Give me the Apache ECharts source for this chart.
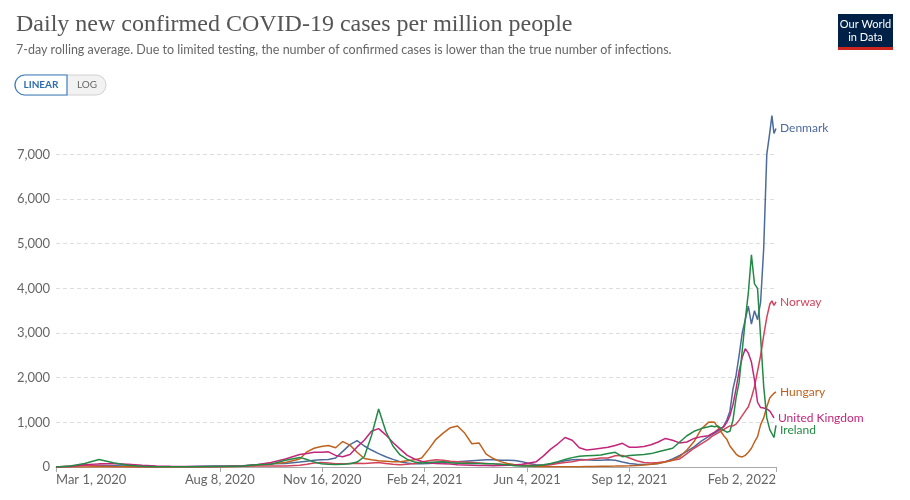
<!DOCTYPE html>
<html>
<head>
    <title>Daily new confirmed COVID-19 cases per million people</title>
    <meta charset="utf-8">
    <script src="https://cdn.jsdelivr.net/npm/echarts@6/dist/echarts.min.js"></script>
    <style>
        html, body { margin: 0; padding: 0; background: #fff; }
        #chart { width: 910px; height: 500px; }
    </style>
</head>
<body>
<div id="chart"></div>
<script>
// days since Mar 1, 2020
var days = [0,14,28,42,56,70,84,98,112,126,140,154,168,182,196,210,224,238,
    245,252,259,266,273,280,287,294,301,308,315,322,329,336,343,350,357,364,371,378,
    385,392,399,406,413,420,427,434,441,448,455,462,469,476,483,490,497,504,511,518,
    525,532,539,546,553,560,567,574,581,588,595,602,609,616,623,630,637,
    640,643,646,649,652,655,658,661,664,667,670,673,676,679,682,685,688,691,694,
    697,699,701,703];

var denmark = [0,10,40,40,30,20,10,5,5,4,15,20,20,30,50,70,80,110,
    130,150,160,170,200,350,500,590,470,380,300,230,170,120,90,70,70,80,90,100,
    110,120,130,140,150,160,160,150,150,145,120,80,50,40,60,100,140,160,170,160,
    150,150,160,150,110,80,60,55,60,80,120,180,260,350,450,580,680,
    720,760,800,850,920,1050,1250,1750,2050,2500,3000,3300,3600,3200,3500,3300,3700,4900,7000,
    7500,7870,7470,7580];

var norway = [0,20,40,25,10,4,2,2,2,3,5,8,12,15,20,20,25,40,
    60,90,100,90,75,70,80,85,80,90,100,80,60,50,60,80,110,140,160,150,
    130,120,110,100,90,80,70,60,55,50,45,40,35,40,50,80,100,120,150,160,
    180,200,200,250,260,200,140,100,90,100,120,150,180,300,420,520,620,
    680,720,760,800,840,880,920,920,960,1050,1150,1250,1350,1550,1800,2150,2500,2950,3350,
    3650,3720,3620,3700];

var hungary = [0,0,2,5,5,4,3,2,1,1,2,3,5,15,40,70,100,180,
    340,420,460,480,430,570,490,330,190,160,140,130,120,120,140,160,200,400,620,760,
    880,920,760,520,540,290,190,120,80,50,30,20,12,8,6,6,6,7,8,10,
    12,15,18,20,25,28,35,45,60,80,110,150,230,380,570,850,1000,
    1010,1000,900,800,700,620,470,380,290,240,225,260,330,420,560,680,950,1100,1350,
    1550,1600,1650,1680];

var uk = [0,10,50,70,75,60,40,25,15,10,10,12,15,25,50,100,180,280,
    300,330,330,340,260,230,280,450,600,800,860,720,550,400,260,180,130,90,80,70,
    65,50,45,40,35,33,30,35,40,45,60,90,120,250,400,520,660,600,430,380,
    400,420,440,480,530,440,440,460,500,560,640,600,540,560,640,680,
    700,740,780,830,860,900,1000,1150,1400,1750,2150,2450,2650,2550,2350,1950,1450,1330,1320,
    1300,1250,1180,1100];

var ireland = [0,20,80,170,95,40,15,8,5,4,5,10,15,25,50,60,150,215,
    170,110,75,60,55,60,75,110,230,700,1300,800,470,270,170,110,90,100,110,115,
    95,85,85,80,80,75,70,60,50,30,20,20,30,50,80,120,170,210,240,250,
    260,270,300,330,230,260,270,280,300,340,380,420,560,700,800,860,900,
    920,900,920,870,820,780,800,1050,1550,1900,2600,3300,3900,4750,4100,4000,2900,1800,1100,
    830,750,660,930];

var countries = ['Denmark', 'Norway', 'Hungary', 'United Kingdom', 'Ireland'];
var values = [denmark, norway, hungary, uk, ireland];
var colors = ['#4C6A9C', '#D3435C', '#C0621F', '#C2267B', '#238A45'];

var tickDays = [0, 160, 260, 360, 460, 560, 703];
var tickLabels = ['Mar 1, 2020', 'Aug 8, 2020', 'Nov 16, 2020', 'Feb 24, 2021', 'Jun 4, 2021', 'Sep 12, 2021', 'Feb 2, 2022'];

var series = countries.map(function (name, k) {
    return {
        name: name,
        type: 'line',
        showSymbol: false,
        data: days.map(function (d, i) { return [d, values[k][i]]; }),
        lineStyle: { color: colors[k], width: 1.5 },
        itemStyle: { color: colors[k] },
        endLabel: {
            show: true,
            formatter: '{a}',
            color: colors[k],
            fontFamily: 'Lato',
            fontSize: 12,
            distance: 4
        },
        labelLayout: { moveOverlap: 'shiftY' },
        emphasis: { disabled: true }
    };
});

var chart = echarts.init(document.getElementById('chart'), null, { renderer: 'canvas' });
chart.setOption({
    animation: false,
    backgroundColor: '#fff',
    title: {
        text: 'Daily new confirmed COVID-19 cases per million people',
        subtext: '7-day rolling average. Due to limited testing, the number of confirmed cases is lower than the true number of infections.',
        left: 11,
        top: 8,
        itemGap: 6,
        textStyle: { fontFamily: 'Liberation Serif', fontSize: 24, fontWeight: 'normal', color: '#555' },
        subtextStyle: { fontFamily: 'Lato', fontSize: 12.5, color: '#666' }
    },
    grid: { left: 56, right: 134, top: 112, bottom: 33, containLabel: false },
    xAxis: {
        type: 'value',
        min: 0,
        max: 703,
        axisLine: { show: true, lineStyle: { color: '#aaa' } },
        axisTick: { show: true, customValues: tickDays, length: 5, lineStyle: { color: '#aaa' } },
        axisLabel: {
            customValues: tickDays,
            formatter: function (v) { return tickLabels[tickDays.indexOf(v)]; },
            fontFamily: 'Lato',
            fontSize: 13,
            color: '#666',
            margin: 6,
            alignMinLabel: 'left',
            alignMaxLabel: 'right'
        },
        splitLine: { show: false }
    },
    yAxis: {
        type: 'value',
        min: 0,
        max: 7950,
        interval: 1000,
        axisLine: { show: false },
        axisTick: { show: false },
        axisLabel: {
            formatter: function (v) { return v.toLocaleString('en-US'); },
            fontFamily: 'Lato',
            fontSize: 13,
            color: '#666',
            margin: 6,
            showMaxLabel: false
        },
        splitLine: { show: true, showMaxLine: false, lineStyle: { color: '#ddd', type: [4, 3] } }
    },
    graphic: [
        // LINEAR / LOG switch
        { type: 'rect', shape: { x: 15, y: 75, width: 91, height: 20, r: 10 }, style: { fill: '#f2f2f2', stroke: '#d0d0d0' } },
        { type: 'rect', shape: { x: 15, y: 75, width: 52, height: 20, r: [10, 0, 0, 10] }, style: { fill: '#fff', stroke: '#3D7DBF', lineWidth: 1.2 } },
        { type: 'text', x: 41, y: 85, style: { text: 'LINEAR', fontFamily: 'Lato', fontSize: 10, fontWeight: 'bold', fill: '#2E6DAE', align: 'center', verticalAlign: 'middle' } },
        { type: 'text', x: 87, y: 85, style: { text: 'LOG', fontFamily: 'Lato', fontSize: 10, fill: '#666', align: 'center', verticalAlign: 'middle' } },
        // logo
        { type: 'rect', shape: { x: 838, y: 14, width: 55, height: 36 }, style: { fill: '#002147' } },
        { type: 'rect', shape: { x: 838, y: 47, width: 55, height: 3 }, style: { fill: '#CE261E' } },
        { type: 'text', x: 865.5, y: 24, style: { text: 'Our World', fontFamily: 'Lato', fontSize: 11, fill: '#fff', align: 'center', verticalAlign: 'middle' } },
        { type: 'text', x: 865.5, y: 37, style: { text: 'in Data', fontFamily: 'Lato', fontSize: 11, fill: '#fff', align: 'center', verticalAlign: 'middle' } }
    ],
    series: series
});
</script>
</body>
</html>
